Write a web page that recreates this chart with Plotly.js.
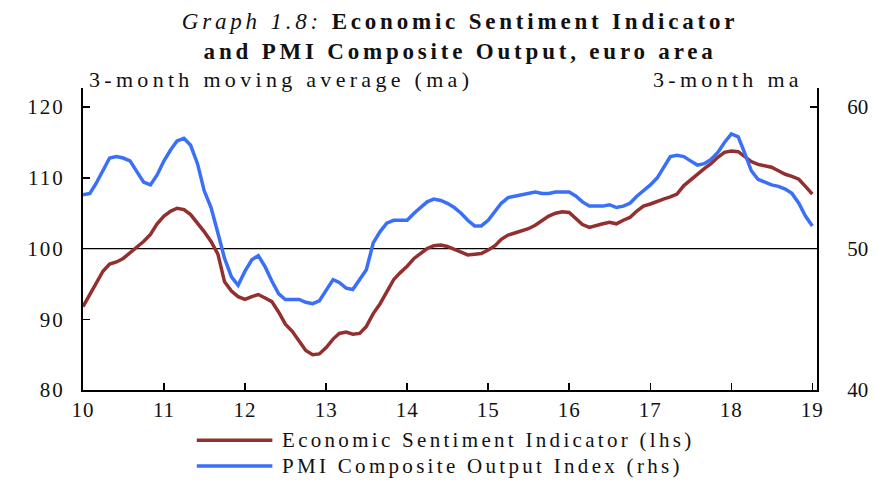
<!DOCTYPE html>
<html><head><meta charset="utf-8">
<script src="https://cdn.plot.ly/plotly-3.0.1.min.js"></script>
<style>
html,body{margin:0;padding:0;background:#fff}
.xtick text{letter-spacing:1px}
.ytick text{letter-spacing:2px}
</style>
</head><body><div id="chart" style="width:878px;height:480px"></div>
<script>
const months = [
'2010-01-01','2010-02-01','2010-03-01','2010-04-01','2010-05-01','2010-06-01','2010-07-01','2010-08-01','2010-09-01','2010-10-01','2010-11-01','2010-12-01',
'2011-01-01','2011-02-01','2011-03-01','2011-04-01','2011-05-01','2011-06-01','2011-07-01','2011-08-01','2011-09-01','2011-10-01','2011-11-01','2011-12-01',
'2012-01-01','2012-02-01','2012-03-01','2012-04-01','2012-05-01','2012-06-01','2012-07-01','2012-08-01','2012-09-01','2012-10-01','2012-11-01','2012-12-01',
'2013-01-01','2013-02-01','2013-03-01','2013-04-01','2013-05-01','2013-06-01','2013-07-01','2013-08-01','2013-09-01','2013-10-01','2013-11-01','2013-12-01',
'2014-01-01','2014-02-01','2014-03-01','2014-04-01','2014-05-01','2014-06-01','2014-07-01','2014-08-01','2014-09-01','2014-10-01','2014-11-01','2014-12-01',
'2015-01-01','2015-02-01','2015-03-01','2015-04-01','2015-05-01','2015-06-01','2015-07-01','2015-08-01','2015-09-01','2015-10-01','2015-11-01','2015-12-01',
'2016-01-01','2016-02-01','2016-03-01','2016-04-01','2016-05-01','2016-06-01','2016-07-01','2016-08-01','2016-09-01','2016-10-01','2016-11-01','2016-12-01',
'2017-01-01','2017-02-01','2017-03-01','2017-04-01','2017-05-01','2017-06-01','2017-07-01','2017-08-01','2017-09-01','2017-10-01','2017-11-01','2017-12-01',
'2018-01-01','2018-02-01','2018-03-01','2018-04-01','2018-05-01','2018-06-01','2018-07-01','2018-08-01','2018-09-01','2018-10-01','2018-11-01','2018-12-01',
'2019-01-01'];

const esi = [
91.8,93.5,95.2,96.8,97.8,98.1,98.6,99.4,100.1,101.0,102.0,103.5,
104.6,105.3,105.7,105.5,104.8,103.6,102.4,101.0,99.2,95.3,94.0,93.2,
92.8,93.2,93.5,93.0,92.5,91.0,89.3,88.3,87.0,85.6,85.0,85.1,
86.0,87.2,88.0,88.2,87.9,88.0,89.0,90.8,92.2,94.0,95.6,96.6,
97.5,98.6,99.3,100.0,100.4,100.5,100.3,99.9,99.4,99.1,99.2,99.3,
99.8,100.4,101.3,101.9,102.2,102.5,102.8,103.3,103.9,104.6,105.0,105.2,
105.1,104.2,103.4,103.0,103.3,103.5,103.7,103.5,104.0,104.4,105.3,106.0,
106.3,106.7,107.0,107.3,107.7,108.9,109.7,110.6,111.3,112.0,112.9,113.6,
113.8,113.7,113.1,112.3,111.9,111.7,111.5,111.0,110.5,110.2,109.8,108.8,
107.7];

const pmi = [
53.8,53.9,54.6,55.5,56.4,56.5,56.4,56.2,55.4,54.7,54.5,55.2,
56.2,57.0,57.6,57.8,57.3,56.0,54.1,52.9,51.1,49.3,48.0,47.4,
48.4,49.2,49.5,48.7,47.7,46.8,46.4,46.4,46.4,46.2,46.1,46.3,
47.1,47.8,47.6,47.2,47.1,47.8,48.5,50.4,51.2,51.8,52.0,52.0,
52.0,52.5,52.9,53.3,53.5,53.4,53.2,52.9,52.5,52.0,51.6,51.6,
52.0,52.6,53.2,53.6,53.7,53.8,53.9,54.0,53.9,53.9,54.0,54.0,
54.0,53.7,53.3,53.0,53.0,53.0,53.1,52.9,53.0,53.2,53.7,54.1,
54.5,55.0,55.7,56.5,56.6,56.5,56.2,55.9,56.0,56.3,56.8,57.5,
58.1,57.9,56.8,55.5,54.9,54.7,54.5,54.4,54.2,53.9,53.2,52.3,
51.6];

const seriesNames = ['Economic Sentiment Indicator (lhs)', 'PMI Composite Output Index (rhs)'];
const seriesColors = ['#93302f', '#3a6ff7'];

const serif = 'Liberation Serif, Times New Roman, serif';
const txt = '#111';
const sp = (s, n) => '<span style="letter-spacing:' + n + 'px">' + s + '</span>';

const traces = [
  {x: months, y: esi, name: seriesNames[0], type: 'scatter', mode: 'lines',
   line: {color: seriesColors[0], width: 3.5}, yaxis: 'y', showlegend: false},
  {x: months, y: pmi, name: seriesNames[1], type: 'scatter', mode: 'lines',
   line: {color: seriesColors[1], width: 3.5}, yaxis: 'y2', showlegend: false}
];

const legY = [-0.166, -0.252];
const shapes = [
  {type: 'line', xref: 'paper', yref: 'y', x0: 0, x1: 1, y0: 100, y1: 100,
   line: {color: '#000', width: 1.2}, layer: 'below'}
];
const annotations = [
  {text: sp('3-month moving average (ma)', 4.3), xref: 'paper', yref: 'paper', x: 0.005, y: 1.027,
   xanchor: 'left', yanchor: 'middle', showarrow: false, font: {family: serif, size: 22, color: txt}},
  {text: sp('3-month ma', 4.3), xref: 'paper', yref: 'paper', x: 0.984, y: 1.027,
   xanchor: 'right', yanchor: 'middle', showarrow: false, font: {family: serif, size: 22, color: txt}}
];
seriesNames.forEach((n, i) => {
  shapes.push({type: 'line', xref: 'paper', yref: 'paper', x0: 0.155, x1: 0.258, y0: legY[i], y1: legY[i],
    line: {color: seriesColors[i], width: 3.5}});
  annotations.push({text: sp(n, 3.3), xref: 'paper', yref: 'paper', x: 0.268, y: legY[i], xanchor: 'left', yanchor: 'middle',
    showarrow: false, font: {family: serif, size: 21, color: txt}});
});

const layout = {
  width: 878, height: 480,
  margin: {l: 83, r: 61, t: 88, b: 90},
  paper_bgcolor: '#fff', plot_bgcolor: '#fff',
  showlegend: false,
  title: {text: sp('<i>Graph 1.8:</i> <b>Economic Sentiment Indicator</b>', 3.8) + '<br>' +
                sp('<b>and PMI Composite Output, euro area</b>', 3.8),
    xref: 'container', x: 0.524, xanchor: 'center', yref: 'container', y: 0.94, yanchor: 'top',
    font: {family: serif, size: 23, color: txt}},
  xaxis: {type: 'date', range: ['2010-01-01', '2019-01-22'], tick0: '2010-01-01', dtick: 'M12', tickformat: '%y',
    showline: true, linecolor: '#000', linewidth: 2, ticks: 'inside', ticklen: 7, tickwidth: 1.5, tickcolor: '#000',
    showgrid: false, zeroline: false, tickfont: {family: serif, size: 21, color: txt}},
  yaxis: {range: [80, 122.7], tick0: 80, dtick: 10, showline: true, linecolor: '#000', linewidth: 2,
    ticks: 'inside', ticklen: 7, tickwidth: 1.5, tickcolor: '#000', showgrid: false, zeroline: false,
    ticklabelstandoff: 12, tickfont: {family: serif, size: 21, color: txt}},
  yaxis2: {range: [40, 61.35], tick0: 40, dtick: 10, overlaying: 'y', side: 'right', showline: true,
    linecolor: '#000', linewidth: 2, ticks: 'inside', ticklen: 7, tickwidth: 1.5, tickcolor: '#000',
    showgrid: false, zeroline: false, ticklabelstandoff: 24, tickfont: {family: serif, size: 21, color: txt}},
  shapes: shapes,
  annotations: annotations
};

Plotly.newPlot('chart', traces, layout, {staticPlot: true, displayModeBar: false});
</script></body></html>
